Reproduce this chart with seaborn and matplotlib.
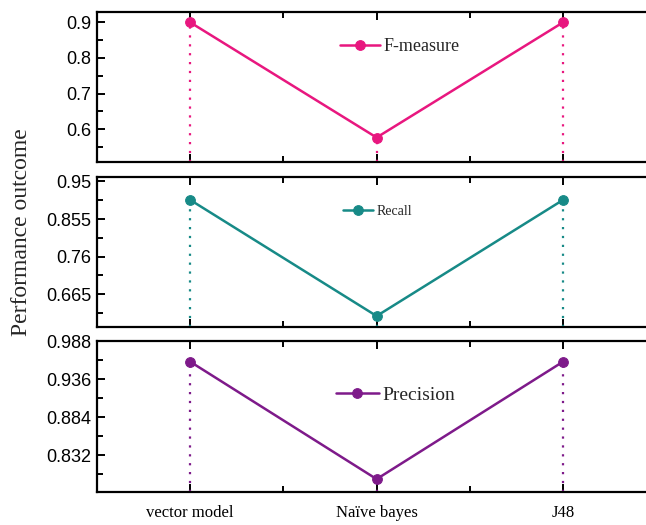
# plot.py
# Three stacked panels comparing classifier performance (F-measure, Recall, Precision).

import pandas as pd
import seaborn as sns
import matplotlib
matplotlib.use("Agg")
import matplotlib.pyplot as plt
from matplotlib.ticker import FixedLocator

# --- data ---
categories = ["vector model", "Naïve bayes", "J48"]
f_measure = [0.900, 0.577, 0.900]
recall = [0.9035, 0.610, 0.9035]
precision = [0.960, 0.799, 0.960]

f_ticks = [0.6, 0.7, 0.8, 0.9]
f_labels = ["0.6", "0.7", "0.8", "0.9"]
r_ticks = [0.665, 0.76, 0.855, 0.95]
r_labels = ["0.665", "0.76", "0.855", "0.95"]
p_ticks = [0.832, 0.884, 0.936, 0.988]
p_labels = ["0.832", "0.884", "0.936", "0.988"]

sns.set_style("white")
plt.rcParams["font.family"] = ["Liberation Sans", "DejaVu Sans"]

fig = plt.figure(figsize=(6.46, 5.25), dpi=100)

serif = ["Liberation Serif", "DejaVu Serif"]

# (name, values, colour, ylim, ticks, labels, axes rect, legend fontsize, legend x, legend y)
panels = [
    ("F-measure", f_measure, "#e8177f", (0.507, 0.928), f_ticks, f_labels,
     [0.150, 0.6905, 0.866, 0.286], 13, 0.541, 0.77),
    ("Recall", recall, "#178a87", (0.581, 0.9626), r_ticks, r_labels,
     [0.150, 0.3762, 0.866, 0.2876], 10, 0.501, 0.77),
    ("Precision", precision, "#7e1a8a", (0.782, 0.989), p_ticks, p_labels,
     [0.150, 0.0638, 0.866, 0.2876], 14, 0.534, 0.64),
]

for i, (name, vals, color, ylim, ticks, labels, rect, lfs, lx, ly) in enumerate(panels):
    ax = fig.add_axes(rect)
    df = pd.DataFrame({"cat": categories, "val": vals})
    xs = list(range(len(categories)))

    # dotted drop lines from each point to the bottom of the panel
    ax.vlines(xs, ylim[0], vals, colors=color, linestyles=(0, (1, 3)),
              linewidth=1.6, zorder=1)

    sns.lineplot(data=df, x="cat", y="val", ax=ax, color=color, linewidth=1.8,
                 marker="o", markersize=7, markeredgecolor=color, label=name,
                 sort=False, zorder=3)

    ax.set_xlim(-0.5, 2.5)
    ax.set_ylim(*ylim)
    ax.set_xlabel("")
    ax.set_ylabel("")

    ax.set_yticks(ticks)
    ax.set_yticklabels(labels, fontsize=13)
    step = ticks[1] - ticks[0]
    minor = [t - step / 2 for t in ticks] + [ticks[-1] + step / 2]
    ax.yaxis.set_minor_locator(FixedLocator(minor))

    ax.set_xticks(xs)
    ax.xaxis.set_minor_locator(FixedLocator([0.5, 1.5]))
    if i == 2:
        ax.set_xticklabels(categories, fontsize=12, family=serif)
    else:
        ax.set_xticklabels([])

    ax.tick_params(which="both", direction="in", top=True, bottom=True,
                   left=True, right=False, width=1.4, colors="black",
                   labelcolor="black")
    ax.tick_params(which="major", length=6, pad=4)
    ax.tick_params(which="minor", length=4)
    ax.tick_params(axis="x", pad=10)

    for s in ["left", "top", "bottom"]:
        ax.spines[s].set_linewidth(1.6)
        ax.spines[s].set_color("black")
    ax.spines["right"].set_visible(False)

    ax.legend(loc="center", bbox_to_anchor=(lx, ly), frameon=False,
              prop={"family": serif, "size": lfs}, handlelength=2.2,
              handletextpad=0.2, borderpad=0)

fig.text(0.034, 0.558, "Performance outcome", rotation=90, va="center",
         ha="center", fontsize=17, family=serif)

plt.savefig("out.png", dpi=100)
